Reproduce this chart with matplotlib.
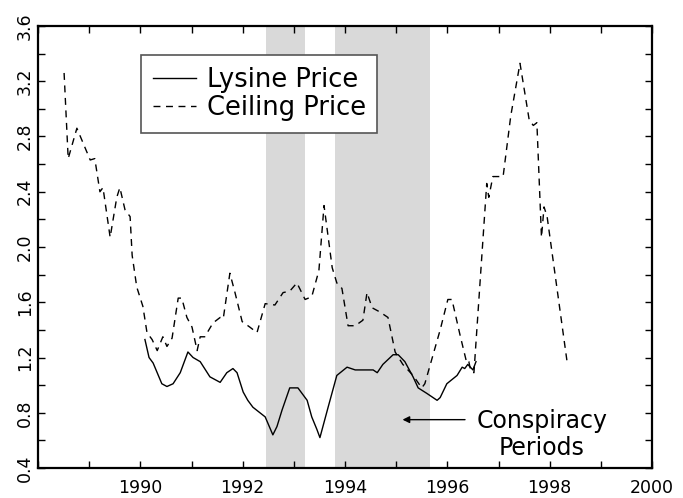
import numpy as np
import matplotlib.pyplot as plt

# ceiling price (dashed)
ceil_year = [1988.51, 1988.59, 1988.76, 1989.02, 1989.11, 1989.21, 1989.27, 1989.41,
             1989.54, 1989.60, 1989.70, 1989.80, 1989.84, 1989.93, 1990.05, 1990.13,
             1990.23, 1990.33, 1990.44, 1990.52, 1990.62, 1990.74, 1990.81, 1990.91,
             1991.01, 1991.11, 1991.17, 1991.26, 1991.42, 1991.56, 1991.62, 1991.75,
             1991.85, 1991.99, 1992.14, 1992.28, 1992.44, 1992.63, 1992.79, 1992.92,
             1993.06, 1993.22, 1993.35, 1993.49, 1993.59, 1993.75, 1993.84, 1993.94,
             1994.06, 1994.20, 1994.35, 1994.43, 1994.53, 1994.68, 1994.84, 1994.98,
             1995.13, 1995.33, 1995.50, 1995.56, 1995.86, 1996.01, 1996.09, 1996.25,
             1996.38, 1996.42, 1996.46, 1996.52, 1996.77, 1996.81, 1996.89, 1997.09,
             1997.24, 1997.42, 1997.60, 1997.68, 1997.75, 1997.84, 1997.89, 1997.95,
             1998.34]
ceil_price = [3.26, 2.64, 2.86, 2.63, 2.64, 2.40, 2.43, 2.07,
              2.36, 2.43, 2.27, 2.22, 1.94, 1.71, 1.57, 1.38,
              1.33, 1.25, 1.35, 1.28, 1.34, 1.63, 1.63, 1.49,
              1.42, 1.25, 1.35, 1.35, 1.45, 1.49, 1.48, 1.81,
              1.67, 1.46, 1.42, 1.38, 1.59, 1.58, 1.67, 1.68,
              1.74, 1.62, 1.64, 1.83, 2.30, 1.85, 1.74, 1.70,
              1.43, 1.43, 1.47, 1.67, 1.56, 1.53, 1.49, 1.24,
              1.15, 1.07, 0.98, 1.01, 1.40, 1.62, 1.62, 1.36,
              1.16, 1.17, 1.10, 1.09, 2.46, 2.36, 2.51, 2.51,
              2.95, 3.33, 2.92, 2.88, 2.90, 2.07, 2.29, 2.22,
              1.17]

# lysine price (solid)
lys_year = [1990.09, 1990.17, 1990.25, 1990.42, 1990.52, 1990.64, 1990.78, 1990.93,
            1991.03, 1991.17, 1991.36, 1991.56, 1991.69, 1991.81, 1991.89, 1992.01,
            1992.10, 1992.20, 1992.44, 1992.59, 1992.67, 1992.77, 1992.92, 1993.08,
            1993.26, 1993.35, 1993.45, 1993.51, 1993.67, 1993.84, 1994.04, 1994.20,
            1994.55, 1994.63, 1994.74, 1994.94, 1995.04, 1995.17, 1995.33, 1995.43,
            1995.60, 1995.80, 1995.86, 1995.99, 1996.19, 1996.29, 1996.34, 1996.40,
            1996.50, 1996.56]
lys_price = [1.33, 1.20, 1.16, 1.01, 0.99, 1.01, 1.09, 1.24,
             1.20, 1.17, 1.06, 1.02, 1.09, 1.12, 1.09, 0.95,
             0.89, 0.84, 0.77, 0.64, 0.70, 0.82, 0.98, 0.98,
             0.89, 0.77, 0.68, 0.62, 0.84, 1.07, 1.13, 1.11,
             1.11, 1.09, 1.15, 1.22, 1.22, 1.17, 1.06, 0.98,
             0.94, 0.89, 0.91, 1.01, 1.07, 1.13, 1.12, 1.15,
             1.11, 1.17]

# conspiracy periods
periods = [(1992.46, 1993.22), (1993.81, 1995.67)]

fig = plt.figure(figsize=(6.83, 4.98), dpi=100)
ax = fig.add_axes([38 / 683, 1 - 468 / 498, 614 / 683, 442 / 498])

for a, b in periods:
    ax.axvspan(a, b, color='#d9d9d9', lw=0, zorder=0)

ax.plot(lys_year, lys_price, 'k-', lw=1.0, label='Lysine Price')
ax.plot(ceil_year, ceil_price, color='k', ls=(0, (5, 4)), lw=1.0, label='Ceiling Price')

ax.set_xlim(1988, 2000)
ax.set_ylim(0.4, 3.6)

xt = np.arange(1988, 2001)
ax.set_xticks(xt)
ax.set_xticklabels([str(v) if v % 2 == 0 and v > 1988 else '' for v in xt], fontsize=12.5)
yt = np.round(np.arange(0.4, 3.61, 0.2), 1)
ax.set_yticks(yt)
ax.set_yticklabels([f'{v:.1f}' if round(v * 10) % 4 == 0 else '' for v in yt],
                   fontsize=12.5, rotation=90, va='center')
ax.tick_params(direction='in', length=5, width=1, top=True, right=True)
ax.tick_params(axis='y', pad=3)
ax.tick_params(axis='x', pad=8)
for s in ax.spines.values():
    s.set_linewidth(1.6)

leg = ax.legend(loc='upper left', bbox_to_anchor=(0.168, 0.934), borderaxespad=0,
                fontsize=18.5, fancybox=False, framealpha=1, edgecolor='#555555',
                handlelength=1.7, handletextpad=0.4, borderpad=0.45, labelspacing=0.1)
leg.get_frame().set_linewidth(1.2)

ax.annotate('', xy=(1995.07, 0.75), xytext=(1996.4, 0.75),
            arrowprops=dict(arrowstyle='-|>', color='k', lw=1, mutation_scale=10))
ax.text(1997.85, 0.64, 'Conspiracy\nPeriods', ha='center', va='center',
        multialignment='center', fontsize=17, linespacing=1.15)

fig.savefig('out.png', dpi=100)
